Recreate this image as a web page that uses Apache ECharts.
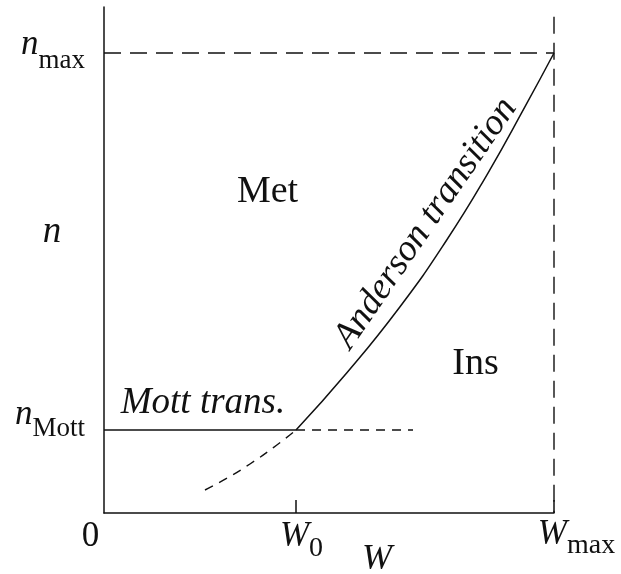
<!DOCTYPE html>
<html><head><meta charset="utf-8">
<script src="https://cdn.jsdelivr.net/npm/echarts@6/dist/echarts.min.js"></script>
<style>html,body{margin:0;padding:0;background:#fff}#c{width:621px;height:574px}</style>
</head><body><div id="c"></div>
<script>
// ---- data (W on x, n on y; W_max = 1, n_max = 1) ----
const W0 = 0.4267;
const WMAX = 1;
const N_MOTT = 0.1804;
const N_MAX = 1;
const andersonW = [0.4267, 0.5393, 0.6578, 0.7616, 0.8533, 0.9356, 1.0];
const andersonN = [0.1804, 0.3043, 0.4485, 0.5935, 0.7391, 0.8833, 1.0];
const extW = [0.2244, 0.2756, 0.3244, 0.3756, 0.4267];
const extN = [0.0500, 0.0770, 0.1066, 0.1415, 0.1804];
const mottDashEndW = 0.6867;
const wmaxLineTopN = 1.079;
const xTickValues = [0, W0, WMAX];
const yTickValues = [N_MOTT, N_MAX];
const annText = ['Met', 'Ins', 'Mott trans.', 'Anderson transition'];
const annW = [0.3633, 0.8256, 0.2200, 0.715];
const annN = [0.6974, 0.3241, 0.2395, 0.630];

const FONT = 'Liberation Serif';
const INK = '#111';
const zip = (a, b) => a.map((v, i) => [v, b[i]]);

const annStyles = [
  {fontSize: 38, fontStyle: 'normal', rotate: 0},
  {fontSize: 38, fontStyle: 'normal', rotate: 0},
  {fontSize: 37, fontStyle: 'italic', rotate: 0},
  {fontSize: 37, fontStyle: 'italic', rotate: 55.5}
];

const chart = echarts.init(document.getElementById('c'), null, {renderer: 'canvas'});
chart.setOption({
  animation: false,
  backgroundColor: '#fff',
  grid: {left: 104, right: 67, top: 7, bottom: 61, containLabel: false, outerBoundsMode: 'none'},
  xAxis: {
    type: 'value', min: 0, max: WMAX,
    splitLine: {show: false},
    axisLine: {lineStyle: {color: INK, width: 1.5}},
    axisTick: {show: true, inside: true, length: 13, customValues: [W0, WMAX], lineStyle: {color: INK, width: 1.5}},
    axisLabel: {
      customValues: xTickValues, margin: 4, color: INK, fontFamily: FONT, hideOverlap: false,
      formatter: function (v) {
        if (Math.abs(v) < 1e-6) return '{z|0}';
        if (Math.abs(v - W0) < 1e-6) return '{w1|W}{s1|0}';
        return '{w2|W}{s2|max}';
      },
      rich: {
        z: {fontFamily: FONT, fontSize: 35, color: INK, verticalAlign: 'top', padding: [2, 27, 0, 0]},
        w1: {fontFamily: FONT, fontSize: 35, fontStyle: 'italic', color: INK, verticalAlign: 'top', padding: [2, 0, 0, 11]},
        s1: {fontFamily: FONT, fontSize: 28, color: INK, verticalAlign: 'top', padding: [18, 0, 0, 0]},
        w2: {fontFamily: FONT, fontSize: 35, fontStyle: 'italic', color: INK, verticalAlign: 'top', padding: [0, 0, 0, 45]},
        s2: {fontFamily: FONT, fontSize: 28, color: INK, verticalAlign: 'top', padding: [15, 0, 0, 0]}
      }
    },
    name: 'W', nameLocation: 'middle', nameGap: 29, nameMoveOverlap: false,
    nameTextStyle: {fontFamily: FONT, fontSize: 36, fontStyle: 'italic', color: INK, lineHeight: 36,
      align: 'center', verticalAlign: 'top', padding: [0, 0, 0, 96]}
  },
  yAxis: {
    type: 'value', min: 0, max: 1.1,
    splitLine: {show: false},
    axisLine: {lineStyle: {color: INK, width: 1.5}},
    axisTick: {show: false},
    axisLabel: {
      customValues: yTickValues, margin: 19, color: INK, fontFamily: FONT, hideOverlap: false,
      formatter: function (v) {
        if (Math.abs(v - N_MAX) < 1e-6) return '{n1|n}{s1|max}';
        return '{n2|n}{s2|Mott}';
      },
      rich: {
        n1: {fontFamily: FONT, fontSize: 35, fontStyle: 'italic', color: INK, verticalAlign: 'top', padding: [4.4, 0, 20.6, 0]},
        s1: {fontFamily: FONT, fontSize: 27, color: INK, verticalAlign: 'top', padding: [24.4, 0, 8.6, 0]},
        n2: {fontFamily: FONT, fontSize: 35, fontStyle: 'italic', color: INK, verticalAlign: 'top', padding: [2.4, 0, 32.6, 0]},
        s2: {fontFamily: FONT, fontSize: 27, color: INK, verticalAlign: 'top', padding: [20.4, 0, 22.6, 0]}
      }
    },
    name: '{a|n}', nameLocation: 'middle', nameGap: 52, nameRotate: 0, nameMoveOverlap: false,
    nameTextStyle: {fontFamily: FONT, fontSize: 37, fontStyle: 'italic', color: INK,
      align: 'center', verticalAlign: 'middle',
      rich: {a: {fontFamily: FONT, fontSize: 37, fontStyle: 'italic', color: INK, verticalAlign: 'top', padding: [0, 0, 55, 0]}}}
  },
  series: [
    {type: 'line', name: 'Anderson', data: zip(andersonW, andersonN), smooth: true, showSymbol: false,
      symbol: 'none', lineStyle: {color: INK, width: 1.5}, silent: true},
    {type: 'line', name: 'extension', data: zip(extW, extN), smooth: true, symbol: 'none',
      lineStyle: {color: INK, width: 1.4, type: [9, 7]}, silent: true},
    {type: 'line', name: 'Mott', data: [[0, N_MOTT], [W0, N_MOTT]], symbol: 'none',
      lineStyle: {color: INK, width: 1.5}, silent: true},
    {type: 'line', name: 'Mott dashed', data: [[W0, N_MOTT], [mottDashEndW, N_MOTT]], symbol: 'none',
      lineStyle: {color: INK, width: 1.4, type: [9, 7]}, silent: true},
    {type: 'line', name: 'nmax', data: [[0, N_MAX], [WMAX, N_MAX]], symbol: 'none',
      lineStyle: {color: INK, width: 1.4, type: [17, 9]}, silent: true},
    {type: 'line', name: 'Wmax', data: [[WMAX, wmaxLineTopN], [WMAX, 0]], symbol: 'none', clip: false,
      lineStyle: {color: INK, width: 1.4, type: [17, 9]}, silent: true},
    {type: 'scatter', name: 'annotations', symbolSize: 0, clip: false, silent: true,
      itemStyle: {opacity: 1},
      data: annText.map((t, i) => ({
        value: [annW[i], annN[i]], name: t,
        label: {show: true, position: 'inside', formatter: t, fontFamily: FONT, color: INK, opacity: 1,
          fontSize: annStyles[i].fontSize, fontStyle: annStyles[i].fontStyle, rotate: annStyles[i].rotate,
          align: 'center', verticalAlign: 'middle'}
      }))}
  ]
});
</script></body></html>
